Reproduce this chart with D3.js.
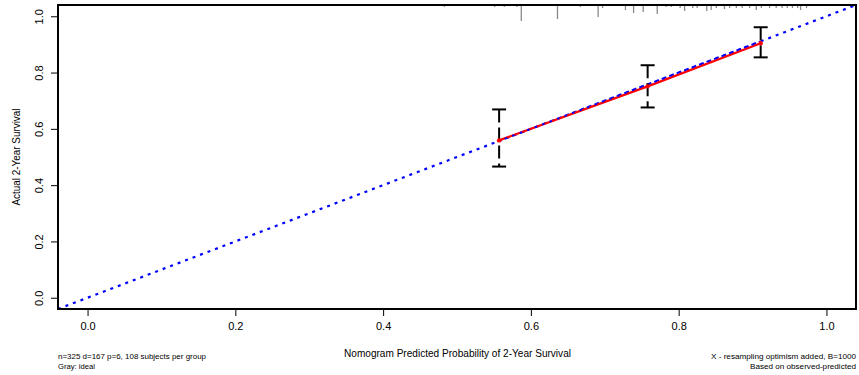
<!DOCTYPE html>
<html>
<head>
<meta charset="utf-8">
<script src="https://cdn.jsdelivr.net/npm/d3@7"></script>
<style>
  body { margin: 0; background: #fff; }
  svg text { font-family: "Liberation Sans", Arial, sans-serif; fill: #000; }
</style>
</head>
<body>
<svg id="chart" width="859" height="375"></svg>
<script>
// calibration groups: predicted vs observed, with CI
var predicted = [0.557, 0.758, 0.911];
var observed = [0.559, 0.751, 0.904];
var ciLow = [0.466, 0.676, 0.854];
var ciHigh = [0.669, 0.826, 0.961];

// distribution of predicted probabilities (rug at top), counts per bin
var rugX = [0.483, 0.551, 0.564, 0.581, 0.587, 0.636, 0.667, 0.691, 0.697, 0.728,
            0.739, 0.752, 0.771, 0.783, 0.790, 0.802, 0.808, 0.819, 0.825, 0.838,
            0.844, 0.851, 0.862, 0.869, 0.878, 0.886, 0.896, 0.905, 0.912, 0.923,
            0.932, 0.940, 0.947, 0.954, 0.961, 0.965, 0.973];
var rugN = [1, 1, 1, 1, 8, 7, 1, 6, 1.5, 2.5,
            4, 3.5, 4.5, 1, 1, 1.5, 3, 1.5, 1.5, 3,
            2.5, 1.5, 2, 1.5, 1.5, 1.5, 1.5, 2.5, 1.5, 1.5,
            1.5, 1.5, 1.5, 1.5, 1.5, 2.5, 1.5];

var ticks = [0, 0.2, 0.4, 0.6, 0.8, 1.0];
var xTitle = "Nomogram Predicted Probability of 2-Year Survival";
var yTitle = "Actual 2-Year Survival";
var subLeft = ["n=325 d=167 p=6, 108 subjects per group", "Gray: ideal"];
var subRight = ["X - resampling optimism added, B=1000", "Based on observed-predicted"];

var svg = d3.select("#chart");
var L = 58, R = 856, T = 5, B = 309;

var x = d3.scaleLinear().domain([-0.04, 1.04]).range([L, R]);
var y = d3.scaleLinear().domain([-0.04, 1.04]).range([B, T]);

svg.append("clipPath").attr("id", "clip")
  .append("rect").attr("x", L).attr("y", T).attr("width", R - L).attr("height", B - T);

// axes
var xAxis = svg.append("g").attr("transform", "translate(0," + B + ")")
  .call(d3.axisBottom(x).tickValues(ticks).tickFormat(d3.format(".1f")).tickSizeOuter(0).tickSize(7).tickPadding(6));
xAxis.select(".domain").remove();
xAxis.selectAll("text").attr("font-size", 11).attr("font-family", "Liberation Sans, Arial");

var yAxis = svg.append("g").attr("transform", "translate(" + L + ",0)")
  .call(d3.axisLeft(y).tickValues(ticks).tickFormat(d3.format(".1f")).tickSizeOuter(0).tickSize(7));
yAxis.select(".domain").remove();
yAxis.selectAll("text")
  .attr("font-size", 11).attr("font-family", "Liberation Sans, Arial")
  .attr("x", null).attr("dy", null)
  .attr("text-anchor", "middle")
  .attr("transform", "translate(-15,0) rotate(-90)");
svg.selectAll(".tick line").attr("stroke", "#000").attr("stroke-width", 1);

var plot = svg.append("g").attr("clip-path", "url(#clip)");

// rug of predicted distribution
plot.selectAll("line.rug").data(rugX).enter().append("line")
  .attr("class", "rug")
  .attr("x1", function (d) { return x(d); })
  .attr("x2", function (d) { return x(d); })
  .attr("y1", T)
  .attr("y2", function (d, i) { return T + 2 * rugN[i]; })
  .attr("stroke", "#8a8a8a").attr("stroke-width", 1.3);

// ideal line
plot.append("line")
  .attr("x1", x(-0.04)).attr("y1", y(-0.04))
  .attr("x2", x(1.04)).attr("y2", y(1.04))
  .attr("stroke", "#0000ff").attr("stroke-width", 2.2)
  .attr("stroke-dasharray", "3,5");

// observed line
var line = d3.line()
  .x(function (d, i) { return x(predicted[i]); })
  .y(function (d) { return y(d); });
plot.append("path").datum(observed)
  .attr("d", line).attr("fill", "none")
  .attr("stroke", "#ff0000").attr("stroke-width", 2.2);

// ideal dotted again on top (blue over red)
plot.append("line")
  .attr("x1", x(predicted[0])).attr("y1", y(predicted[0]))
  .attr("x2", x(predicted[2])).attr("y2", y(predicted[2]))
  .attr("stroke", "#0000ff").attr("stroke-width", 2)
  .attr("stroke-dasharray", "2.5,5.5").attr("stroke-dashoffset", 2);

// error bars
var eb = plot.selectAll("g.eb").data(predicted).enter().append("g").attr("class", "eb");
eb.append("line")
  .attr("x1", function (d) { return x(d); }).attr("x2", function (d) { return x(d); })
  .attr("y1", function (d, i) { return y(ciHigh[i]); })
  .attr("y2", function (d, i) { return y(ciLow[i]); })
  .attr("stroke", "#000").attr("stroke-width", 2).attr("stroke-dasharray", "13,5");
[ciHigh, ciLow].forEach(function (arr) {
  eb.append("line")
    .attr("x1", function (d) { return x(d) - 7; }).attr("x2", function (d) { return x(d) + 7; })
    .attr("y1", function (d, i) { return y(arr[i]); })
    .attr("y2", function (d, i) { return y(arr[i]); })
    .attr("stroke", "#000").attr("stroke-width", 2);
});

// points
plot.selectAll("circle.pt").data(observed).enter().append("circle")
  .attr("cx", function (d, i) { return x(predicted[i]); })
  .attr("cy", function (d) { return y(d); })
  .attr("r", 2.2).attr("fill", "#ff0000");

// frame
svg.append("rect").attr("x", L).attr("y", T).attr("width", R - L).attr("height", B - T)
  .attr("fill", "none").attr("stroke", "#000").attr("stroke-width", 2);

// titles
svg.append("text").attr("x", (L + R) / 2 + 0.5).attr("y", 357)
  .attr("text-anchor", "middle").attr("font-size", 10.5)
  .attr("textLength", 227).attr("lengthAdjust", "spacingAndGlyphs")
  .text(xTitle);
svg.append("text").attr("transform", "translate(20," + (T + B) / 2 + ") rotate(-90)")
  .attr("text-anchor", "middle").attr("font-size", 10.5)
  .attr("textLength", 97).attr("lengthAdjust", "spacingAndGlyphs")
  .text(yTitle);

var leftW = [148, 37], rightW = [145, 106];
subLeft.forEach(function (s, i) {
  svg.append("text").attr("x", L).attr("y", 359 + i * 10)
    .attr("font-size", 8).attr("textLength", leftW[i]).attr("lengthAdjust", "spacingAndGlyphs")
    .text(s);
});
subRight.forEach(function (s, i) {
  svg.append("text").attr("x", R - rightW[i]).attr("y", 359 + i * 10)
    .attr("font-size", 8).attr("textLength", rightW[i]).attr("lengthAdjust", "spacingAndGlyphs")
    .text(s);
});
</script>
</body>
</html>
